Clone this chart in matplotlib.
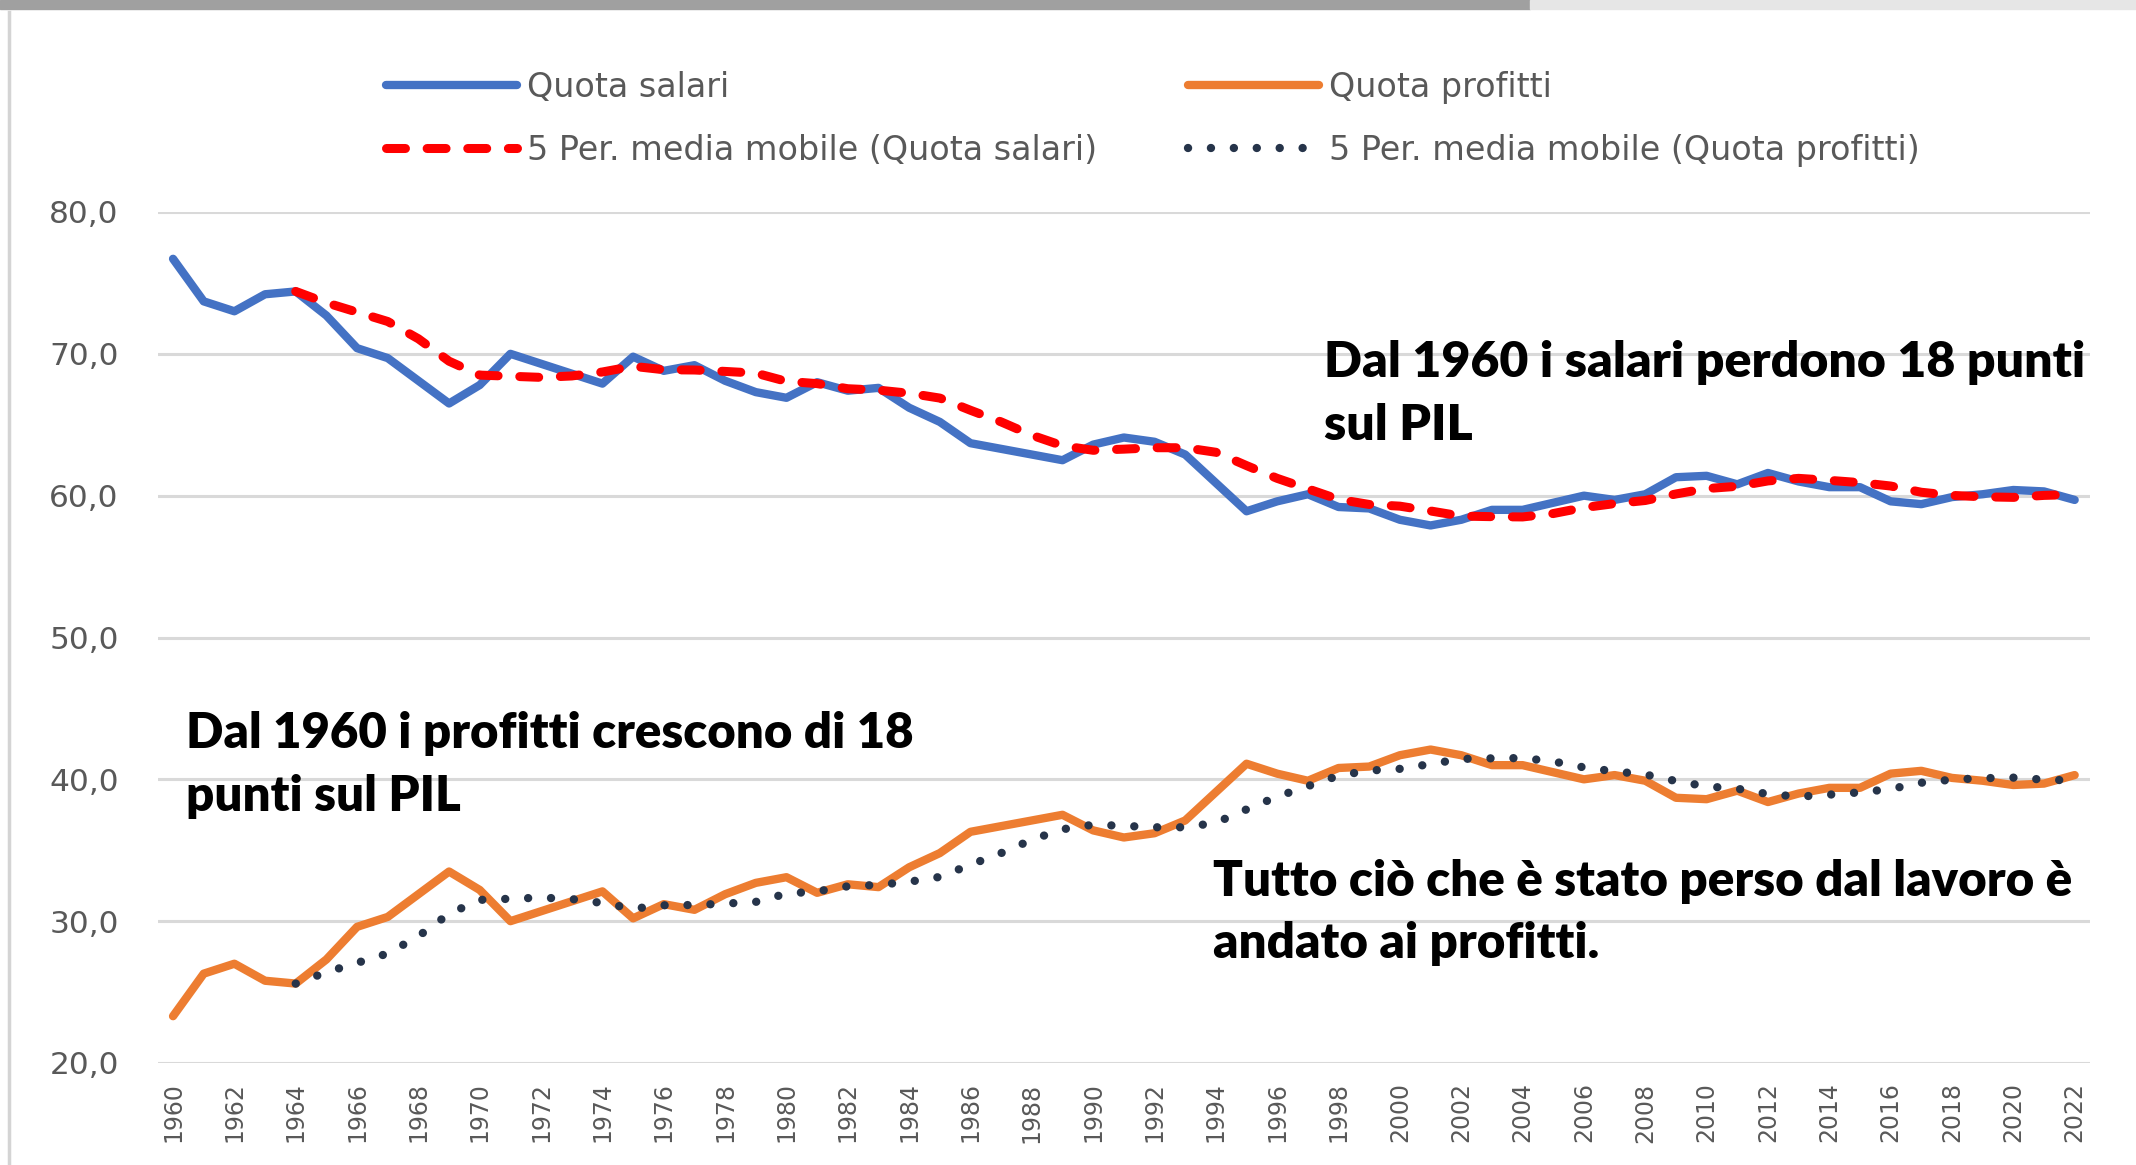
import matplotlib
matplotlib.use('Agg')
import matplotlib.pyplot as plt
import pandas as pd
from matplotlib.lines import Line2D
from matplotlib.patches import Rectangle

# ---------------- data ----------------
years = list(range(1960, 2023))
quota_salari = [76.7, 73.7, 73.0, 74.2, 74.4, 72.7, 70.4, 69.7, 68.1, 66.5,
                67.8, 70.0, 69.3, 68.6, 67.9, 69.8, 68.8, 69.2, 68.1, 67.3,
                66.9, 68.0, 67.4, 67.6, 66.2, 65.2, 63.7, 63.3, 62.9, 62.5,
                63.6, 64.1, 63.8, 62.9, 60.9, 58.9, 59.6, 60.1, 59.2, 59.1,
                58.3, 57.9, 58.3, 59.0, 59.0, 59.5, 60.0, 59.7, 60.1, 61.3,
                61.4, 60.8, 61.6, 61.0, 60.6, 60.6, 59.6, 59.4, 59.9, 60.1,
                60.4, 60.3, 59.7]
quota_profitti = [23.3, 26.3, 27.0, 25.8, 25.6, 27.3, 29.6, 30.3, 31.9, 33.5,
                  32.2, 30.0, 30.7, 31.4, 32.1, 30.2, 31.2, 30.8, 31.9, 32.7,
                  33.1, 32.0, 32.6, 32.4, 33.8, 34.8, 36.3, 36.7, 37.1, 37.5,
                  36.4, 35.9, 36.2, 37.1, 39.1, 41.1, 40.4, 39.9, 40.8, 40.9,
                  41.7, 42.1, 41.7, 41.0, 41.0, 40.5, 40.0, 40.3, 39.9, 38.7,
                  38.6, 39.2, 38.4, 39.0, 39.4, 39.4, 40.4, 40.6, 40.1, 39.9,
                  39.6, 39.7, 40.3]
ma_window = 5
series_labels = ["Quota salari", "Quota profitti",
                 "5 Per. media mobile (Quota salari)",
                 "5 Per. media mobile (Quota profitti)"]
ytick_values = [20, 30, 40, 50, 60, 70, 80]
ytick_labels = ["20,0", "30,0", "40,0", "50,0", "60,0", "70,0", "80,0"]
xtick_years = list(range(1960, 2023, 2))
note_salari = ["Dal 1960 i salari perdono 18 punti", "sul PIL"]
note_profitti = ["Dal 1960 i profitti crescono di 18", "punti sul PIL"]
note_lavoro = ["Tutto ciò che è stato perso dal lavoro è", "andato ai profitti."]

# moving averages (Excel "5 Per. media mobile" trendline)
ma_salari = pd.Series(quota_salari).rolling(ma_window).mean()
ma_profitti = pd.Series(quota_profitti).rolling(ma_window).mean()

# ---------------- figure ----------------
W, H = 2136, 1165
fig = plt.figure(figsize=(W / 100, H / 100), dpi=100)
fig.patch.set_facecolor('white')


def fx(px):
    return px / W


def fy(py):
    return 1 - py / H


C_BLUE = '#4472C4'
C_ORANGE = '#ED7D31'
C_RED = '#FF0000'
C_DOTS = '#26344A'
C_GRID = '#D9D9D9'
C_TXT = '#595959'

ax = fig.add_axes([fx(157.7), fy(1063), fx(2090) - fx(157.7), fy(212) - fy(1063)])
ax.set_xlim(1959.5, 2022.5)
ax.set_ylim(20, 80)

for s in ax.spines.values():
    s.set_visible(False)
ax.set_yticks(ytick_values)
ax.set_yticklabels(ytick_labels)
ax.set_xticks(xtick_years)
ax.set_xticklabels([str(y) for y in xtick_years], rotation=90)
ax.tick_params(axis='y', length=0, pad=28, labelsize=22.5, labelcolor=C_TXT)
ax.tick_params(axis='x', length=0, pad=14, labelsize=17, labelcolor=C_TXT)
ax.grid(axis='y', color=C_GRID, lw=2.2)
ax.grid(axis='x', visible=False)
ax.set_axisbelow(True)

l_sal, = ax.plot(years, quota_salari, color=C_BLUE, lw=6, solid_capstyle='round',
                 solid_joinstyle='round', label=series_labels[0], zorder=3)
l_pro, = ax.plot(years, quota_profitti, color=C_ORANGE, lw=6, solid_capstyle='round',
                 solid_joinstyle='round', label=series_labels[1], zorder=3)
l_ma_s, = ax.plot(years, ma_salari, color=C_RED, lw=6.5, ls=(0, (2.1, 2.4)),
                  dash_capstyle='round', label=series_labels[2], zorder=4)
l_ma_p, = ax.plot(years, ma_profitti, color=C_DOTS, lw=6, ls=(0, (0.01, 2.74)),
                  dash_capstyle='round', label=series_labels[3], zorder=4)

# ---------------- legend (two columns) ----------------
leg_fs = 24
leg_kw = dict(loc='upper left', frameon=False, borderpad=0, borderaxespad=0,
              fontsize=leg_fs, labelcolor=C_TXT, handletextpad=0.3,
              labelspacing=0.9, handlelength=3.93)
leg1 = fig.legend([l_sal, l_ma_s], [series_labels[0], series_labels[2]],
                  bbox_to_anchor=(fx(386), fy(71)), **leg_kw)
leg2 = fig.legend([l_pro, l_ma_p], [series_labels[1], series_labels[3]],
                  bbox_to_anchor=(fx(1188), fy(71)), **leg_kw)

# ---------------- annotations ----------------
renderer = fig.canvas.get_renderer()


def add_note(lines, x, y_base, target_w, dy=63):
    fam = ['Lato', 'DejaVu Sans']
    t0 = fig.text(fx(x), fy(y_base), lines[0], ha='left', va='baseline',
                  fontsize=30, fontweight='heavy', family=fam, color='black')
    w = t0.get_window_extent(renderer).width
    fs = 30 * target_w / w
    t0.set_fontsize(fs)
    for i, ln in enumerate(lines[1:], start=1):
        fig.text(fx(x), fy(y_base + dy * i), ln, ha='left', va='baseline',
                 fontsize=fs, fontweight='heavy', family=fam, color='black')


add_note(note_salari, 1324, 377, 760)
add_note(note_profitti, 186, 748, 725)
add_note(note_lavoro, 1213, 895.5, 856)

# ---------------- screenshot frame artefacts ----------------
fig.patches.append(Rectangle((0, fy(9)), fx(1530), 9 / H, transform=fig.transFigure,
                             color='#A0A0A0', zorder=0))
fig.patches.append(Rectangle((fx(1530), fy(9)), 1 - fx(1530), 9 / H,
                             transform=fig.transFigure, color='#E6E6E6', zorder=0))
fig.lines.append(Line2D([fx(9), fx(9)], [0, fy(12)], transform=fig.transFigure,
                        color='#D4D4D4', lw=2.5))

fig.savefig('out.png', dpi=100, facecolor='white')
